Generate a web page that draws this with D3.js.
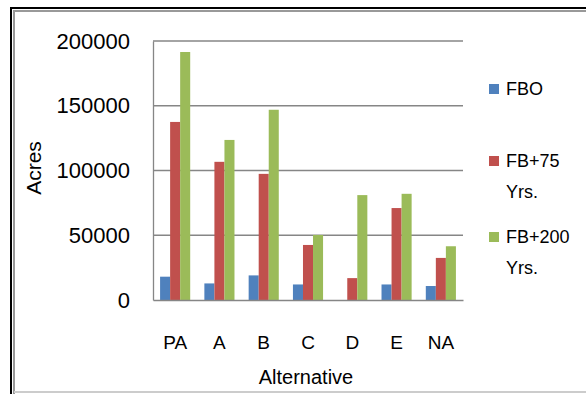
<!DOCTYPE html>
<html>
<head>
<meta charset="utf-8">
<script src="https://cdn.jsdelivr.net/npm/d3@7"></script>
<style>
  body { margin: 0; background: #fff; }
  svg text { font-family: "Liberation Sans", Arial, sans-serif; fill: #000; }
</style>
</head>
<body>
<div id="chart"></div>
<script>
// data
var categories = ["PA", "A", "B", "C", "D", "E", "NA"];
var seriesNames = ["FBO", "FB+75 Yrs.", "FB+200 Yrs."];
var fbo = [18000, 12800, 19000, 12000, 0, 12000, 10800];
var fb75 = [137500, 106700, 97400, 42500, 16900, 71000, 32500];
var fb200 = [191500, 123600, 146900, 50200, 81000, 82000, 41500];
var yTicks = [0, 50000, 100000, 150000, 200000];
var colors = ["#4f81bd", "#c0504d", "#9bbb59"];

var width = 586, height = 394;
var margin = { top: 41, right: 123, bottom: 94, left: 153 };

var svg = d3.select("#chart")
  .append("svg")
  .attr("width", width)
  .attr("height", height);

// frame of the chart object
svg.append("path").attr("d", "M11,394 V8 H586").attr("fill", "none")
  .attr("stroke", "#000").attr("stroke-width", 2);
svg.append("path").attr("d", "M14,394 V11 H586").attr("fill", "none")
  .attr("stroke", "#999").attr("stroke-width", 2);
svg.append("line").attr("x1", 14).attr("x2", 586).attr("y1", 392).attr("y2", 392)
  .attr("stroke", "#ccc").attr("stroke-width", 2);

var g = svg.append("g")
  .attr("transform", "translate(" + margin.left + "," + margin.top + ")");
var w = width - margin.left - margin.right;
var h = height - margin.top - margin.bottom;

var x = d3.scaleBand().domain(categories).range([0, w]).paddingInner(0.32).paddingOuter(0.16);
var xs = d3.scaleBand().domain(seriesNames).range([0, x.bandwidth()]);
var y = d3.scaleLinear().domain([0, 200000]).range([h, 0]);

// grid lines
g.append("g")
  .selectAll("line")
  .data(yTicks.slice(1))
  .join("line")
  .attr("x1", 0).attr("x2", w)
  .attr("y1", function (d) { return y(d); })
  .attr("y2", function (d) { return y(d); })
  .attr("stroke", "#868686").attr("stroke-width", 1.3);

// bars
var table = categories.map(function (c, i) {
  return { cat: c, vals: [fbo[i], fb75[i], fb200[i]] };
});
g.append("g")
  .selectAll("g")
  .data(table)
  .join("g")
  .attr("transform", function (d) { return "translate(" + x(d.cat) + ",0)"; })
  .selectAll("rect")
  .data(function (d) { return d.vals; })
  .join("rect")
  .attr("x", function (d, i) { return xs(seriesNames[i]); })
  .attr("y", function (d) { return y(d); })
  .attr("width", xs.bandwidth())
  .attr("height", function (d) { return h - y(d); })
  .attr("fill", function (d, i) { return colors[i]; });

// axes
var yAxis = g.append("g")
  .call(d3.axisLeft(y).tickValues(yTicks).tickSize(0).tickPadding(23).tickFormat(d3.format("d")));
yAxis.select(".domain").attr("stroke", "#868686").attr("stroke-width", 1.3);
yAxis.selectAll("text").style("font-size", "22px").style("font-family", "Liberation Sans, Arial, sans-serif");

var xAxis = g.append("g")
  .attr("transform", "translate(0," + h + ")")
  .call(d3.axisBottom(x).tickSize(0).tickPadding(36));
xAxis.select(".domain").attr("stroke", "#868686").attr("stroke-width", 1.3);
xAxis.selectAll("text").style("font-size", "19px").style("font-family", "Liberation Sans, Arial, sans-serif");

// axis titles
svg.append("text")
  .attr("transform", "translate(41,168) rotate(-90)")
  .attr("text-anchor", "middle")
  .style("font-size", "21px")
  .text("Acres");
svg.append("text")
  .attr("x", 306).attr("y", 384)
  .attr("text-anchor", "middle")
  .style("font-size", "20px")
  .text("Alternative");

// legend
var legendY = [89, 161, 237];
var legend = svg.append("g")
  .selectAll("g")
  .data(seriesNames)
  .join("g")
  .attr("transform", function (d, i) { return "translate(489," + legendY[i] + ")"; });

legend.append("rect")
  .attr("x", 0).attr("y", -5)
  .attr("width", 10).attr("height", 10)
  .attr("fill", function (d, i) { return colors[i]; });

legend.append("text")
  .attr("x", 17)
  .attr("y", 6)
  .style("font-size", "18px")
  .each(function (d) {
    var parts = d.split(" ");
    var t = d3.select(this);
    parts.forEach(function (p, j) {
      t.append("tspan").attr("x", 17).attr("dy", j === 0 ? 0 : 31).text(p);
    });
  });
</script>
</body>
</html>
